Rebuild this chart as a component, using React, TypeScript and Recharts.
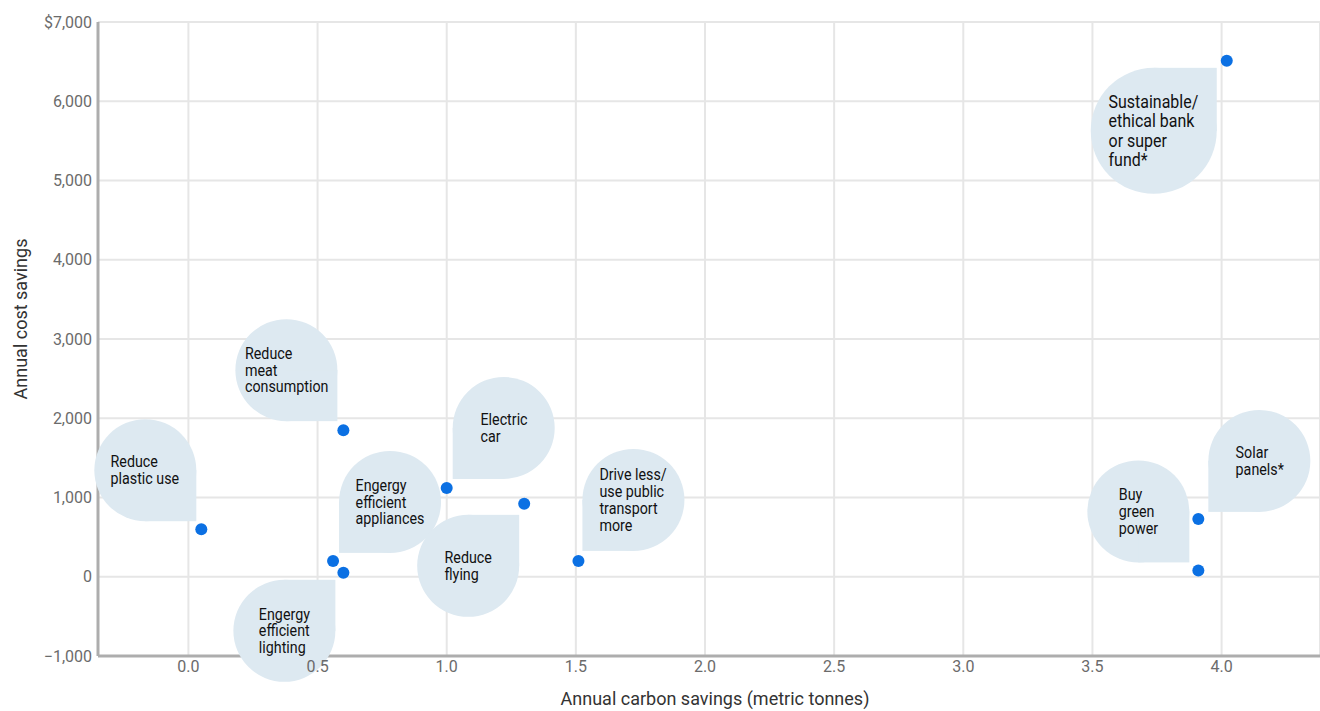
import { ScatterChart, Scatter, XAxis, YAxis, CartesianGrid, Label } from 'recharts';

// one entry per action, same order in every array
const actions = [
  'Reduce\nplastic use',
  'Reduce\nmeat\nconsumption',
  'Engergy\nefficient\nappliances',
  'Engergy\nefficient\nlighting',
  'Electric\ncar',
  'Reduce\nflying',
  'Drive less/\nuse public\ntransport\nmore',
  'Buy\ngreen\npower',
  'Solar\npanels*',
  'Sustainable/\nethical bank\nor super\nfund*',
];
const carbonSavings = [0.05, 0.6, 0.56, 0.6, 1.0, 1.3, 1.51, 3.91, 3.91, 4.02];
const costSavings = [600, 1850, 200, 50, 1120, 920, 200, 80, 730, 6510];

const xTicks = [0, 0.5, 1, 1.5, 2, 2.5, 3, 3.5, 4];
const yTicks = [-1000, 0, 1000, 2000, 3000, 4000, 5000, 6000, 7000];

// callout placement: which corner of the bubble points at the dot, gap from the dot, radius, font size
const callouts = [
  { corner: 'br', dx: -5, dy: -8, r: 51, fs: 17, lh: 16.7 },
  { corner: 'br', dx: -6, dy: -9, r: 51, fs: 17, lh: 16.7 },
  { corner: 'bl', dx: 6, dy: -8, r: 51, fs: 17, lh: 16.7 },
  { corner: 'tr', dx: -8, dy: 7, r: 51, fs: 17, lh: 16.7 },
  { corner: 'bl', dx: 6, dy: -9, r: 51, fs: 17, lh: 16.7 },
  { corner: 'tr', dx: -5, dy: 11, r: 51, fs: 17, lh: 16.7 },
  { corner: 'bl', dx: 4, dy: -10, r: 51, fs: 17, lh: 16.7 },
  { corner: 'br', dx: -9, dy: -8, r: 51, fs: 17, lh: 16.7 },
  { corner: 'bl', dx: 10, dy: -7, r: 51, fs: 17, lh: 16.7 },
  { corner: 'tr', dx: -10, dy: 7, r: 63, fs: 19, lh: 19.5 },
];

const data = actions.map((name, i) => ({
  name,
  x: carbonSavings[i],
  y: costSavings[i],
  ...callouts[i],
}));

const BUBBLE = '#dde9f1';
const DOT = '#0b70e3';

function box(props: any) {
  const { cx, cy, payload } = props;
  const { corner, dx, dy, r } = payload;
  const px = cx + dx;
  const py = cy + dy;
  const right = corner[1] === 'r';
  const bottom = corner[0] === 'b';
  const left = right ? px - 2 * r : px;
  const top = bottom ? py - 2 * r : py;
  return { left, top, r, right, bottom };
}

function BubbleShape(props: any) {
  if (props.cx == null) return null;
  const { left, top, r, right, bottom } = box(props);
  return (
    <g>
      <circle cx={left + r} cy={top + r} r={r} fill={BUBBLE} />
      <rect x={right ? left + r : left} y={bottom ? top + r : top} width={r} height={r} fill={BUBBLE} />
    </g>
  );
}

function LabelShape(props: any) {
  if (props.cx == null) return null;
  const { left, top, r } = box(props);
  return (
    <foreignObject x={left} y={top} width={2 * r} height={2 * r}>
      <div
        style={{
          width: 2 * r,
          height: 2 * r,
          display: 'flex',
          alignItems: 'center',
          justifyContent: 'center',
        }}
      >
        <div
          style={{
            whiteSpace: 'pre-line',
            textAlign: 'left',
            fontFamily: 'Roboto, sans-serif',
            fontSize: props.payload.fs,
            lineHeight: props.payload.lh + 'px',
            color: '#111',
            transform: 'scaleX(0.84)',
            transformOrigin: 'center',
          }}
        >
          {props.payload.name}
        </div>
      </div>
    </foreignObject>
  );
}

function DotShape(props: any) {
  if (props.cx == null) return null;
  return <circle cx={props.cx} cy={props.cy} r={6} fill={DOT} />;
}

const fmtY = (v: number) => {
  if (v === 7000) return '$7,000';
  if (v < 0) return '\u2212' + Math.abs(v).toLocaleString('en-US');
  return v.toLocaleString('en-US');
};

const tickStyle = { fill: '#6b6b6b', fontSize: 16, fontFamily: 'Roboto' };

export default function App() {
  return (
    <div style={{ position: 'absolute', left: 0, top: 0, background: '#fff' }}>
      <ScatterChart width={1320} height={711} margin={{ top: 22, right: 0, bottom: 0, left: 0 }}>
        <CartesianGrid stroke="#e6e6e6" strokeWidth={2} />
        <XAxis
          type="number"
          dataKey="x"
          domain={[-0.35, 4.381]}
          ticks={xTicks}
          tickFormatter={(v: number) => v.toFixed(1)}
          axisLine={{ stroke: '#adadad', strokeWidth: 3 }}
          tickLine={false}
          tickSize={0}
          tickMargin={5}
          tick={tickStyle}
          height={55}
        >
          <Label
            content={() => (
              <text x={715} y={705} textAnchor="middle" fontFamily="Roboto" fontSize={18} fill="#333">
                Annual carbon savings (metric tonnes)
              </text>
            )}
          />
        </XAxis>
        <YAxis
          type="number"
          dataKey="y"
          domain={[-1000, 7000]}
          ticks={yTicks}
          tickFormatter={fmtY}
          axisLine={{ stroke: '#adadad', strokeWidth: 3 }}
          tickLine={false}
          tickSize={0}
          tickMargin={6}
          tick={tickStyle}
          width={98}
        >
          <Label
            content={() => (
              <text
                x={20}
                y={319}
                transform="rotate(-90 20 319)"
                textAnchor="middle"
                dominantBaseline="central"
                fontFamily="Roboto"
                fontSize={18}
                fill="#333"
              >
                Annual cost savings
              </text>
            )}
          />
        </YAxis>
        <Scatter data={data} shape={BubbleShape} isAnimationActive={false} />
        <Scatter data={data} shape={LabelShape} isAnimationActive={false} />
        <Scatter data={data} shape={DotShape} isAnimationActive={false} />
      </ScatterChart>
    </div>
  );
}
